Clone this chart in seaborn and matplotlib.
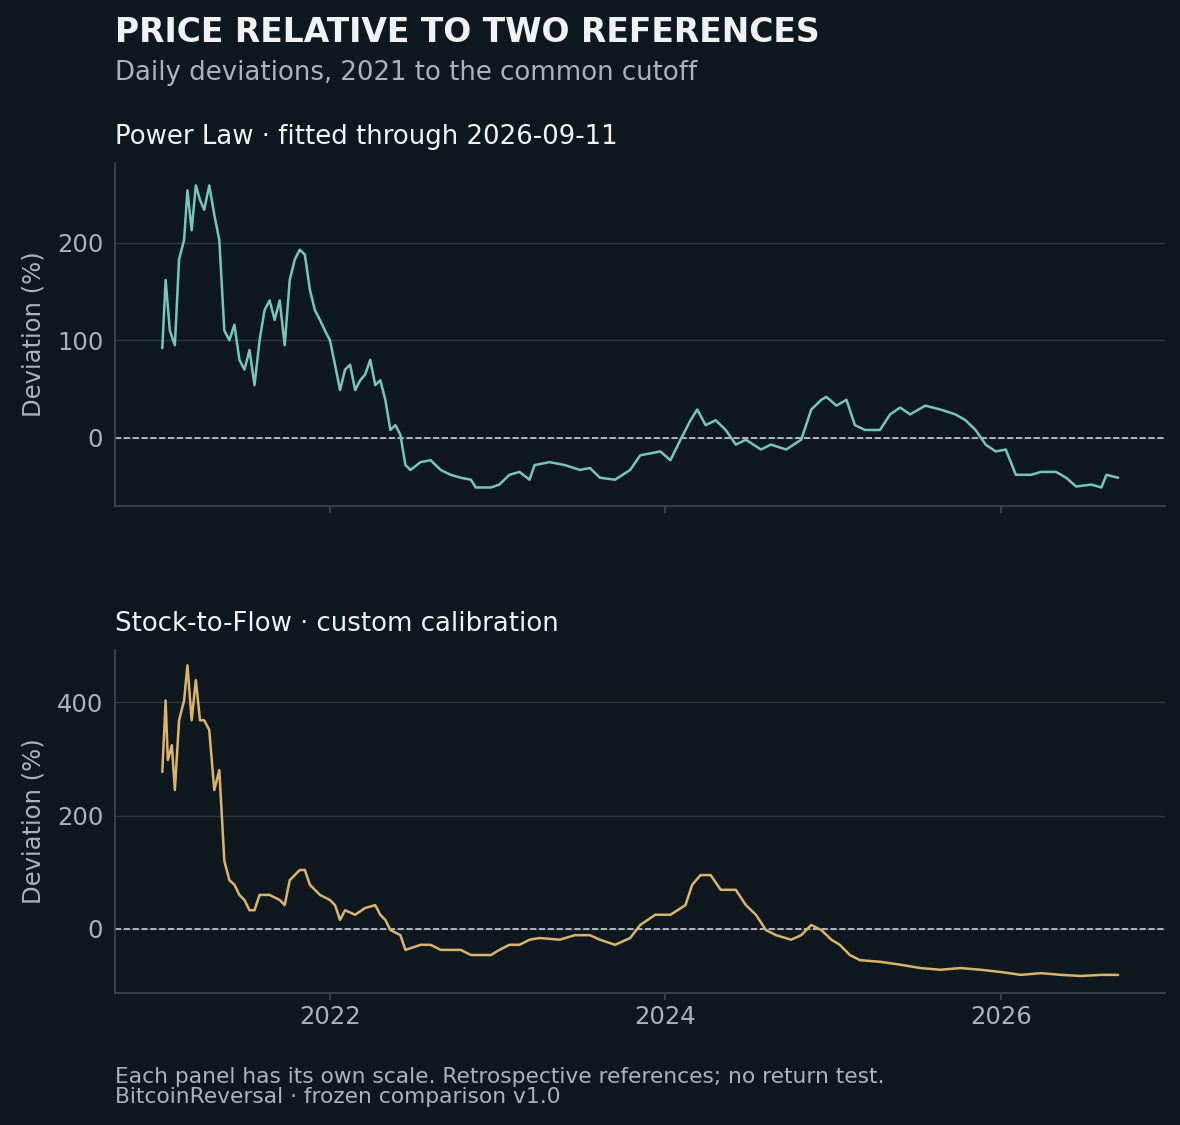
import numpy as np
import pandas as pd
import seaborn as sns
import matplotlib.pyplot as plt
import matplotlib.dates as mdates

## --- data (decimal year, deviation %)
pl_years = [2021.00, 2021.02, 2021.045, 2021.075, 2021.10, 2021.13, 2021.15, 2021.175, 2021.20, 2021.225,
            2021.25, 2021.28, 2021.31, 2021.34, 2021.37, 2021.40, 2021.43, 2021.46, 2021.49, 2021.52,
            2021.55, 2021.58, 2021.61, 2021.64, 2021.67, 2021.70, 2021.73, 2021.76, 2021.79, 2021.82,
            2021.85, 2021.88, 2021.91, 2021.94, 2021.97, 2022.00, 2022.03, 2022.06, 2022.09, 2022.12,
            2022.15, 2022.18, 2022.21, 2022.24, 2022.27, 2022.30, 2022.33, 2022.36, 2022.39, 2022.42,
            2022.45, 2022.48, 2022.54, 2022.60, 2022.66, 2022.72, 2022.78, 2022.84, 2022.87, 2022.96,
            2023.01, 2023.07, 2023.13, 2023.19, 2023.22, 2023.31, 2023.40, 2023.49, 2023.55, 2023.61,
            2023.70, 2023.79, 2023.85, 2023.97, 2024.03, 2024.09, 2024.15, 2024.19, 2024.24, 2024.30,
            2024.36, 2024.42, 2024.48, 2024.57, 2024.63, 2024.72, 2024.81, 2024.87, 2024.93, 2024.96,
            2025.02, 2025.08, 2025.13, 2025.19, 2025.28, 2025.34, 2025.40, 2025.46, 2025.55, 2025.64,
            2025.73, 2025.79, 2025.85, 2025.91, 2025.97, 2026.03, 2026.09, 2026.18, 2026.24, 2026.33,
            2026.39, 2026.45, 2026.54, 2026.60, 2026.63, 2026.70]
pl_dev = [92, 162, 110, 95, 183, 203, 254, 213, 259, 244,
          234, 259, 229, 203, 110, 100, 116, 80, 70, 90,
          54, 100, 131, 141, 121, 141, 95, 162, 183, 193,
          188, 152, 131, 121, 110, 100, 75, 49, 70, 75,
          49, 59, 65, 80, 54, 59, 39, 8, 13, 3,
          -28, -33, -25, -23, -33, -38, -41, -43, -51, -51,
          -48, -38, -35, -43, -28, -25, -28, -33, -31, -41,
          -43, -33, -18, -14, -23, -2, 18, 29, 13, 18,
          8, -7, -2, -12, -7, -12, -2, 29, 39, 42,
          33, 39, 13, 8, 8, 24, 31, 24, 33, 29,
          24, 18, 8, -7, -14, -12, -38, -38, -35, -35,
          -41, -50, -48, -51, -38, -41]

s2f_years = [2021.00, 2021.02, 2021.033, 2021.057, 2021.075, 2021.10, 2021.13, 2021.15, 2021.175, 2021.20,
             2021.225, 2021.25, 2021.28, 2021.31, 2021.34, 2021.37, 2021.40, 2021.43, 2021.46, 2021.49,
             2021.52, 2021.55, 2021.58, 2021.64, 2021.70, 2021.73, 2021.76, 2021.82, 2021.85, 2021.88,
             2021.94, 2022.00, 2022.03, 2022.06, 2022.09, 2022.15, 2022.21, 2022.27, 2022.30, 2022.33,
             2022.36, 2022.42, 2022.45, 2022.54, 2022.60, 2022.66, 2022.78, 2022.84, 2022.96, 2023.01,
             2023.07, 2023.13, 2023.19, 2023.25, 2023.37, 2023.46, 2023.55, 2023.61, 2023.70, 2023.79,
             2023.85, 2023.94, 2024.03, 2024.12, 2024.16, 2024.21, 2024.27, 2024.33, 2024.42, 2024.48,
             2024.54, 2024.60, 2024.66, 2024.75, 2024.81, 2024.87, 2024.93, 2024.99, 2025.04, 2025.10,
             2025.16, 2025.28, 2025.40, 2025.52, 2025.64, 2025.76, 2025.88, 2026.00, 2026.12, 2026.24,
             2026.36, 2026.48, 2026.60, 2026.70]
s2f_dev = [277, 403, 298, 324, 245, 368, 403, 465, 368, 439,
           368, 368, 351, 245, 280, 120, 86, 78, 60, 51,
           33, 33, 60, 60, 51, 42, 86, 104, 104, 78,
           60, 51, 42, 16, 33, 25, 37, 42, 25, 16,
           -2, -11, -37, -28, -28, -37, -37, -46, -46, -37,
           -28, -28, -19, -16, -19, -11, -11, -19, -28, -16,
           7, 25, 25, 42, 78, 95, 95, 69, 69, 42,
           25, -2, -11, -19, -11, 7, -2, -19, -28, -46,
           -55, -58, -63, -69, -72, -69, -72, -76, -81, -78,
           -81, -83, -81, -81]
## ---

def to_frame(years, vals):
    base = pd.Timestamp("2021-01-01")
    dates = [base + pd.Timedelta(days=(y - 2021) * 365.25) for y in years]
    return pd.DataFrame({"date": dates, "dev": vals})

BG = "#10181f"
GRID = "#2b3843"
MUTED = "#a9b4bd"

sns.set_theme(style="dark")
plt.rcParams["font.family"] = ["DejaVu Sans"]

fig = plt.figure(figsize=(11.8, 11.25), dpi=100, facecolor=BG)
ax1 = fig.add_axes([115/1180, 1 - 506/1125, 1050/1180, 343/1125])
ax2 = fig.add_axes([115/1180, 1 - 993/1125, 1050/1180, 343/1125], sharex=ax1)

panels = [
    (ax1, to_frame(pl_years, pl_dev), "#76c7b7", "Power Law · fitted through 2026-09-11", (-70, 282), [0, 100, 200]),
    (ax2, to_frame(s2f_years, s2f_dev), "#d9b56b", "Stock-to-Flow · custom calibration", (-113, 492), [0, 200, 400]),
]
for ax, df, col, title, ylim, yt in panels:
    ax.set_facecolor(BG)
    sns.lineplot(data=df, x="date", y="dev", color=col, lw=1.8, ax=ax)
    ax.axhline(0, color="#c8d0d6", lw=1.2, ls="--", zorder=1)
    ax.set_ylim(*ylim)
    ax.set_yticks(yt)
    ax.yaxis.grid(True, color=GRID, lw=1)
    ax.xaxis.grid(False)
    for s in ["top", "right"]:
        ax.spines[s].set_visible(False)
    for s in ["left", "bottom"]:
        ax.spines[s].set_color("#3a4853")
    ax.set_ylabel("Deviation (%)", color=MUTED, fontsize=17.5, labelpad=8)
    ax.set_xlabel("")
    ax.tick_params(colors=MUTED, labelsize=17.5, length=5, color="#3a4853", left=False, bottom=True)
    ax.set_title(title, loc="left", color="#f0f3f5", fontsize=18.7, pad=14)

ax1.set_xlim(pd.Timestamp("2020-09-20"), pd.Timestamp("2026-12-25"))
ax2.xaxis.set_major_locator(mdates.YearLocator(2))
ax2.xaxis.set_major_formatter(mdates.DateFormatter("%Y"))
plt.setp(ax1.get_xticklabels(), visible=False)

fig.text(115/1180, 1 - 32/1125, "PRICE RELATIVE TO TWO REFERENCES", color="#eef2f5",
         fontsize=23.8, fontweight="bold", va="center")
fig.text(115/1180, 1 - 73/1125, "Daily deviations, 2021 to the common cutoff", color=MUTED,
         fontsize=18.7, va="center")
fig.text(115/1180, 1 - 1087/1125,
         "Each panel has its own scale. Retrospective references; no return test.\nBitcoinReversal · frozen comparison v1.0",
         color=MUTED, fontsize=15.7, va="center", linespacing=1.0)

fig.savefig("out.png", dpi=100, facecolor=BG)
